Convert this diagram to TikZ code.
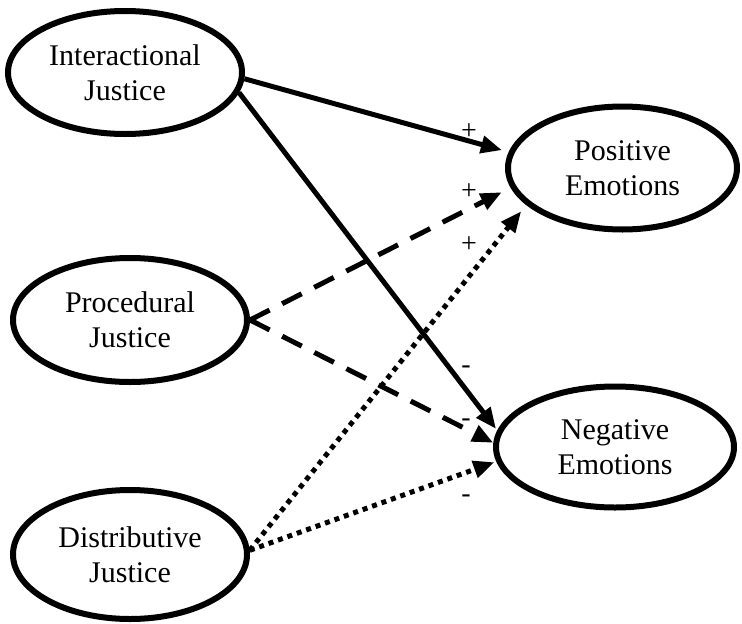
\documentclass[tikz,border=0pt]{standalone}
\usepackage{fontspec}
\setmainfont{Liberation Serif}
\usetikzlibrary{shapes.geometric,arrows.meta}
\begin{document}
\begin{tikzpicture}[x=1pt,y=-1pt,
  latent/.style={ellipse,draw,line width=6pt,inner sep=0pt,align=center,
    font=\fontsize{30}{35}\selectfont},
  link/.style={line width=5pt,-{Triangle[length=21pt,width=17pt]}},
  solidlink/.style={link},
  dashlink/.style={link,dash pattern=on 22pt off 14pt},
  dotlink/.style={link,dash pattern=on 5pt off 5pt},
  sign/.style={font=\fontsize{28}{28}\selectfont,anchor=base,inner sep=0pt}]
\useasboundingbox (0,0) rectangle (742,624);
\node[latent,minimum width=234pt,minimum height=123pt] (IJ) at (125,72.5) {Interactional\\Justice};
\node[latent,minimum width=234pt,minimum height=124pt] (PJ) at (130,320) {Procedural\\Justice};
\node[latent,minimum width=234pt,minimum height=129pt] (DJ) at (130,554.5) {Distributive\\Justice};
\node[latent,minimum width=229pt,minimum height=123pt] (PE) at (622.5,168) {Positive\\Emotions};
\node[latent,minimum width=238pt,minimum height=121pt] (NE) at (615,447) {Negative\\Emotions};

\draw[solidlink,shorten >=7pt] (IJ.-3.6) -- (PE.172.6);
\draw[solidlink,shorten >=2pt] (IJ.-10) -- (NE.172.5);
\draw[dashlink,shorten >=10pt] (PJ.east) -- (PE.190.2);
\draw[dashlink] (PJ.east) -- (NE.178.3);
\draw[dotlink,shorten >=8pt] (DJ.2) -- (PE.201.5);
\draw[dotlink,shorten >=2pt] (DJ.2) -- (NE.187.5);

\node[sign] (s1) at (469,139) {+};
\node[sign] (s2) at (469,199) {+};
\node[sign] (s3) at (469,252) {+};
\node[sign] (s4) at (466,373) {-};
\node[sign] (s5) at (466,426) {-};
\node[sign] (s6) at (466,502) {-};
\end{tikzpicture}
\end{document}
